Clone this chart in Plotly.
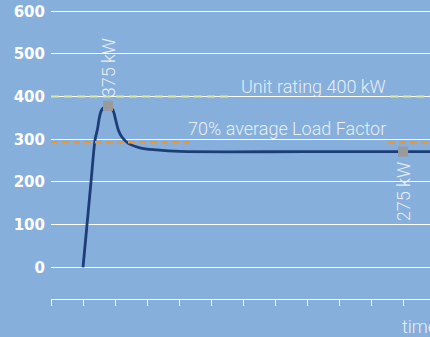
import plotly.graph_objects as go

# ---- data ----
time_x = [1.0, 1.25, 1.375, 1.447, 1.584, 1.781,
          1.928, 2.022, 2.103, 2.21, 2.406, 2.78, 3.30, 4.03, 8.0, 12.0]
load_kw = [0, 200, 298, 322, 369, 378.5,
           369, 345, 322, 306, 291, 280, 275, 271.5, 271, 271]
marker_x = [1.781, 11.0]
marker_y = [378.5, 271]
marker_labels = ["375 kW", "275 kW"]
unit_rating = 400
avg_load = 293
y_ticks = [0, 100, 200, 300, 400, 500, 600]
x_ticks = list(range(0, 12))

BG = "#86AFDC"
LIGHT = "#E8EEF6"
TXT_FONT = dict(family="Roboto, Liberation Sans, Arial", size=18, color=LIGHT, weight=300)

fig = go.Figure()
fig.add_trace(go.Scatter(x=time_x, y=load_kw, mode="lines",
                         line=dict(color="#1D3C78", width=2.8, shape="spline", smoothing=0.9),
                         hoverinfo="skip", cliponaxis=True))
fig.add_trace(go.Scatter(x=marker_x, y=marker_y, mode="markers",
                         marker=dict(symbol="square", size=10, color="#9A9A9A"),
                         hoverinfo="skip", cliponaxis=False))

# reference lines (broken where the labels sit)
for x0, x1 in [(0, 5.66), (10.6, 12)]:
    fig.add_shape(type="line", xref="x", yref="y", x0=x0, x1=x1, y0=unit_rating, y1=unit_rating,
                  line=dict(color="#DCE9A5", width=2, dash="8px,5px"))
for x0, x1 in [(0, 4.34), (10.53, 12)]:
    fig.add_shape(type="line", xref="x", yref="y", x0=x0, x1=x1, y0=avg_load, y1=avg_load,
                  line=dict(color="#F0952A", width=2.5, dash="7px,4px"))

fig.add_annotation(x=10.53, y=unit_rating, xref="x", yref="y", text="Unit rating 400 kW",
                   showarrow=False, xanchor="right", yanchor="bottom", yshift=-2, font=TXT_FONT)
fig.add_annotation(x=10.53, y=300, xref="x", yref="y", text="70% average Load Factor",
                   showarrow=False, xanchor="right", yanchor="bottom", yshift=-2, font=TXT_FONT)
fig.add_annotation(x=marker_x[0], y=marker_y[0], xref="x", yref="y", text=marker_labels[0],
                   showarrow=False, textangle=-90, xanchor="center", yanchor="bottom", yshift=6,
                   font=TXT_FONT)
fig.add_annotation(x=marker_x[1], y=marker_y[1], xref="x", yref="y", text=marker_labels[1],
                   showarrow=False, textangle=-90, xanchor="center", yanchor="top", yshift=-9,
                   font=TXT_FONT)
fig.add_annotation(x=0.922, y=0, xref="paper", yref="paper", text="time",
                   showarrow=False, xanchor="left", yanchor="middle", yshift=-27, font=TXT_FONT)

fig.update_layout(
    width=430, height=337,
    margin=dict(l=51, r=0, t=0, b=38, autoexpand=False),
    paper_bgcolor=BG, plot_bgcolor=BG,
    showlegend=False,
    xaxis=dict(range=[0, 11.84], showgrid=False, zeroline=False, showline=True,
               linecolor="white", linewidth=1, ticks="outside", ticklen=6, tickwidth=1,
               tickcolor="white", tickvals=x_ticks, showticklabels=False, fixedrange=True),
    yaxis=dict(range=[-74.3, 626.4], tickvals=y_ticks, showgrid=True, gridcolor="white",
               gridwidth=1, zeroline=False, showline=False, ticks="",
               ticklabelstandoff=5,
               tickfont=dict(family="DejaVu Sans", size=15, color="white", weight="bold"),
               fixedrange=True),
)

fig.write_html("out.html", config={"displayModeBar": False},
               post_script="document.body.style.margin='0';document.body.style.overflow='hidden';")
